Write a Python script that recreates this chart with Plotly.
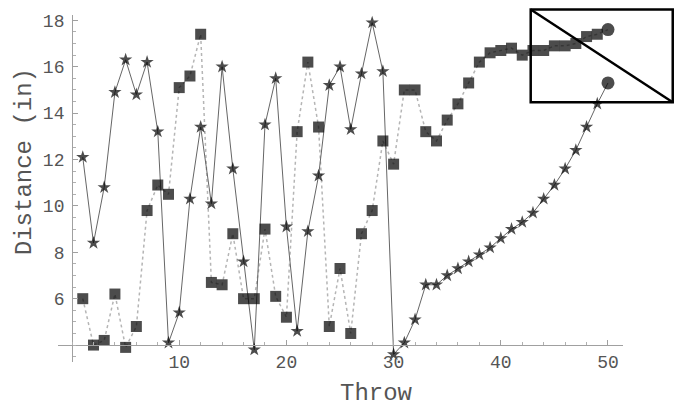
import plotly.graph_objects as go

# ---- data ----
throws = list(range(1, 51))
stars = [12.1, 8.4, 10.8, 14.9, 16.3, 14.8, 16.2, 13.2, 4.1, 5.4,
         10.3, 13.4, 10.1, 16.0, 11.6, 7.6, 3.8, 13.5, 15.5, 9.1,
         4.6, 8.9, 11.3, 15.2, 16.0, 13.3, 15.7, 17.9, 15.8, 3.6,
         4.1, 5.1, 6.6, 6.6, 7.0, 7.3, 7.6, 7.9, 8.2, 8.6,
         9.0, 9.3, 9.7, 10.3, 10.9, 11.6, 12.4, 13.4, 14.4, 15.3]
squares = [6.0, 4.0, 4.2, 6.2, 3.9, 4.8, 9.8, 10.9, 10.5, 15.1,
           15.6, 17.4, 6.7, 6.6, 8.8, 6.0, 6.0, 9.0, 6.1, 5.2,
           13.2, 16.2, 13.4, 4.8, 7.3, 4.5, 8.8, 9.8, 12.8, 11.8,
           15.0, 15.0, 13.2, 12.8, 13.7, 14.4, 15.3, 16.2, 16.6, 16.7,
           16.8, 16.5, 16.7, 16.7, 16.9, 16.9, 17.0, 17.3, 17.4, 17.6]
x_ticks = [10, 20, 30, 40, 50]
y_ticks = [6, 8, 10, 12, 14, 16, 18]
x_title = "Throw"
y_title = "Distance (in)"

# plot range and axes origin (data units)
x_range = [-1.31, 51.4]
y_range = [3.27, 18.23]
origin = (0, 4)
# highlight box (data units)
box = dict(x0=42.79, x1=56.04, y0=14.47, y1=18.47)

def px(v):
    return (v - x_range[0]) / (x_range[1] - x_range[0])

def py(v):
    return (v - y_range[0]) / (y_range[1] - y_range[0])

FONT = "Liberation Mono, Courier New, monospace"
n = len(throws)
star_symbols = ["star"] * (n - 1) + ["circle"]
square_symbols = ["square"] * (n - 1) + ["circle"]
star_sizes = [10] * (n - 1) + [13]
square_sizes = [11] * (n - 1) + [13]

fig = go.Figure()
fig.add_trace(go.Scatter(x=throws, y=squares, mode="lines",
                         line=dict(color="#b5b5b5", width=1.5, dash="dot"),
                         hoverinfo="skip", showlegend=False))
fig.add_trace(go.Scatter(x=throws, y=stars, mode="lines",
                         line=dict(color="#666666", width=1),
                         hoverinfo="skip", showlegend=False))
fig.add_trace(go.Scatter(x=throws, y=squares, mode="markers",
                         marker=dict(symbol=square_symbols, size=square_sizes,
                                     color="black", line=dict(width=0)),
                         cliponaxis=False, showlegend=False))
fig.add_trace(go.Scatter(x=throws, y=stars, mode="markers",
                         marker=dict(symbol=star_symbols, size=star_sizes,
                                     color="black", line=dict(width=0)),
                         cliponaxis=False, showlegend=False))

axis_common = dict(showgrid=False, zeroline=False, showline=True,
                   linecolor="#a0a0a0", linewidth=1,
                   ticks="inside", tickcolor="#a0a0a0", ticklen=5,
                   tickfont=dict(family=FONT, size=18, color="#555555"))

fig.update_layout(
    width=681, height=406,
    margin=dict(l=58, r=58, t=13, b=44),
    paper_bgcolor="white", plot_bgcolor="white",
    xaxis=dict(range=x_range, tickvals=x_ticks, anchor="free",
               position=py(origin[1]),
               minor=dict(dtick=2, tick0=0, ticks="inside", ticklen=3,
                          tickcolor="#b0b0b0"),
               ticklabelstandoff=0,
               **axis_common),
    yaxis=dict(range=y_range, tickvals=y_ticks, anchor="free",
               position=px(origin[0]),
               minor=dict(dtick=0.5, tick0=0, ticks="inside", ticklen=3,
                          tickcolor="#b0b0b0"),
               ticklabelstandoff=4,
               **axis_common),
    shapes=[
        dict(type="rect", xref="paper", yref="paper",
             x0=px(box["x0"]), x1=px(box["x1"]),
             y0=py(box["y0"]), y1=py(box["y1"]),
             line=dict(color="black", width=2.5), layer="above"),
        dict(type="line", xref="paper", yref="paper",
             x0=px(box["x0"]), x1=px(box["x1"]),
             y0=py(box["y1"]), y1=py(box["y0"]),
             line=dict(color="black", width=2.5), layer="above"),
    ],
    annotations=[
        dict(text=x_title, xref="paper", yref="paper",
             x=0.563, y=-0.092, xanchor="center", yanchor="middle",
             showarrow=False, font=dict(family=FONT, size=24, color="#555555")),
        dict(text=y_title, xref="paper", yref="paper",
             x=-0.060, y=0.576, xanchor="center", yanchor="middle",
             textangle=-90, showarrow=False,
             font=dict(family=FONT, size=24, color="#555555")),
    ],
)

fig.write_html("out.html",
               config={"displayModeBar": False},
               post_script="document.body.style.margin='0';document.body.style.padding='0';")
